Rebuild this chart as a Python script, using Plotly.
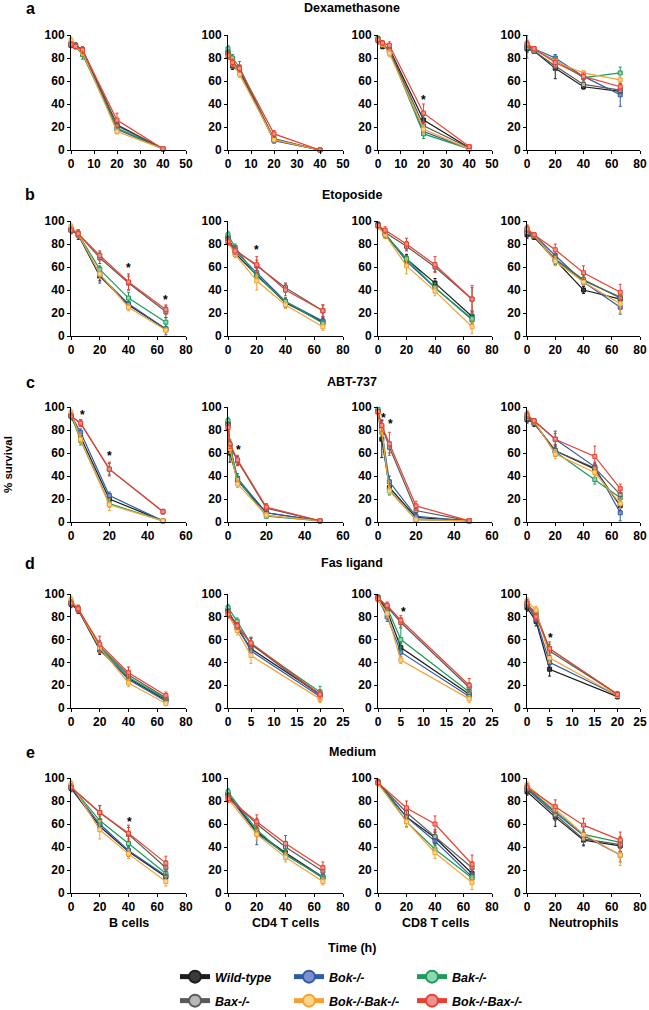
import plotly.graph_objects as go

# ---------------- data ----------------
SERIES = ["Wild-type", "Bok-/-", "Bak-/-", "Bax-/-", "Bok-/-Bak-/-", "Bok-/-Bax-/-"]
CELLS = ["B cells", "CD4 T cells", "CD8 T cells", "Neutrophils"]
TREATMENTS = ["Dexamethasone", "Etoposide", "ABT-737", "Fas ligand", "Medium"]
LETTERS = ["a", "b", "c", "d", "e"]

# Dexamethasone
DEX_TIMES = [[0, 2, 5, 20, 40], [0, 2, 5, 20, 40], [0, 2, 5, 20, 40], [0, 5, 20, 40, 66]]
DEX_XMAX = [50, 50, 50, 80]
DEX_WT = [[91, 91, 87, 22, 1], [85, 73, 68, 9, 0], [96, 90, 88, 26, 2], [88, 86, 71, 55, 51]]
DEX_BOK = [[92, 90, 86, 18, 1], [84, 76, 70, 8, 0], [96, 92, 87, 16, 1], [90, 88, 80, 64, 48]]
DEX_BAK = [[93, 90, 83, 19, 1], [88, 80, 72, 9, 0], [97, 93, 86, 14, 1], [91, 87, 78, 63, 67]]
DEX_BAX = [[91, 91, 87, 21, 1], [84, 74, 69, 10, 0], [95, 91, 87, 21, 2], [89, 86, 73, 57, 52]]
DEX_BOKBAK = [[95, 90, 85, 16, 1], [82, 76, 66, 9, 0], [96, 92, 84, 18, 1], [93, 88, 77, 67, 61]]
DEX_BOKBAX = [[92, 90, 87, 26, 1], [82, 76, 71, 14, 0], [96, 93, 91, 32, 3], [92, 88, 76, 64, 55]]
DEX_WT_SD = [[2, 2, 3, 3, 1], [3, 3, 3, 2, 0.5], [2, 2, 3, 4, 1], [3, 2, 9, 2, 3]]
DEX_BOK_SD = [[2, 2, 3, 2, 1], [3, 4, 3, 2, 0.5], [2, 2, 3, 3, 1], [10, 2, 3, 3, 10]]
DEX_BAK_SD = [[2, 2, 4, 2, 1], [3, 3, 5, 2, 0.5], [2, 2, 3, 4, 1], [3, 2, 3, 3, 5]]
DEX_BAX_SD = [[2, 2, 3, 3, 1], [3, 3, 3, 2, 0.5], [3, 2, 3, 4, 1], [3, 2, 4, 2, 3]]
DEX_BOKBAK_SD = [[3, 2, 3, 2, 1], [3, 3, 3, 2, 0.5], [2, 2, 3, 3, 1], [3, 2, 3, 2, 4]]
DEX_BOKBAX_SD = [[2, 2, 3, 6, 1], [3, 3, 3, 3, 0.5], [2, 2, 3, 8, 1], [3, 2, 4, 3, 3]]

# Etoposide
ETO_TIMES = [[0, 5, 20, 40, 66], [0, 5, 20, 40, 66], [0, 5, 20, 40, 66], [0, 5, 20, 40, 66]]
ETO_XMAX = [80, 80, 80, 80]
ETO_WT = [[92, 88, 52, 27, 6], [86, 72, 53, 29, 12], [97, 88, 67, 46, 17], [88, 86, 66, 40, 32]]
ETO_BOK = [[93, 89, 53, 28, 6], [85, 74, 55, 30, 13], [96, 89, 65, 42, 14], [91, 88, 70, 47, 25]]
ETO_BAK = [[93, 89, 58, 33, 12], [88, 77, 52, 30, 11], [96, 89, 67, 42, 15], [92, 87, 66, 48, 34]]
ETO_BAX = [[92, 89, 68, 46, 21], [84, 75, 61, 42, 22], [96, 90, 78, 60, 32], [90, 87, 67, 49, 33]]
ETO_BOKBAK = [[95, 89, 54, 25, 5], [82, 71, 48, 27, 8], [95, 88, 61, 39, 8], [94, 88, 65, 47, 28]]
ETO_BOKBAX = [[92, 89, 70, 47, 23], [82, 74, 62, 40, 22], [96, 92, 80, 62, 32], [93, 88, 75, 55, 38]]
ETO_WT_SD = [[3, 4, 4, 3, 2], [3, 3, 4, 4, 3], [2, 3, 4, 4, 4], [3, 2, 4, 3, 4]]
ETO_BOK_SD = [[3, 3, 7, 4, 5], [3, 3, 4, 3, 3], [2, 3, 5, 4, 4], [3, 2, 4, 3, 6]]
ETO_BAK_SD = [[3, 3, 3, 5, 4], [3, 3, 3, 3, 3], [2, 3, 3, 4, 4], [3, 2, 4, 4, 4]]
ETO_BAX_SD = [[3, 3, 5, 6, 5], [3, 3, 5, 4, 5], [2, 3, 4, 4, 10], [3, 2, 4, 4, 5]]
ETO_BOKBAK_SD = [[3, 3, 4, 3, 2], [3, 3, 8, 3, 3], [2, 3, 7, 4, 6], [3, 2, 4, 3, 8]]
ETO_BOKBAX_SD = [[3, 3, 4, 7, 4], [3, 3, 7, 5, 5], [2, 3, 5, 7, 12], [3, 2, 5, 6, 7]]

# ABT-737
ABT_TIMES = [[0, 5, 20, 48], [0, 1, 5, 20, 48], [0, 2, 6, 20, 48], [0, 5, 20, 48, 66]]
ABT_XMAX = [60, 60, 60, 80]
ABT_WT = [[92, 74, 20, 1], [86, 60, 36, 8, 1], [96, 72, 30, 4, 1], [89, 86, 62, 46, 14]]
ABT_BOK = [[93, 78, 23, 1], [85, 66, 38, 8, 1], [97, 80, 35, 5, 1], [91, 88, 72, 48, 8]]
ABT_BAK = [[93, 71, 16, 1], [88, 67, 37, 5, 1], [98, 78, 28, 2, 1], [92, 87, 61, 37, 21]]
ABT_BAX = [[92, 86, 46, 9], [84, 66, 53, 12, 1], [96, 83, 65, 10, 1], [90, 86, 62, 47, 24]]
ABT_BOKBAK = [[95, 72, 15, 1], [82, 64, 33, 6, 1], [95, 80, 27, 2, 1], [94, 88, 59, 43, 16]]
ABT_BOKBAX = [[92, 86, 46, 9], [82, 68, 54, 13, 1], [96, 84, 68, 14, 1], [93, 88, 72, 57, 29]]
ABT_WT_SD = [[3, 4, 3, 1], [3, 8, 3, 2, 0.5], [2, 16, 4, 2, 0.5], [3, 3, 5, 3, 4]]
ABT_BOK_SD = [[3, 3, 3, 1], [3, 4, 4, 2, 0.5], [2, 4, 5, 2, 0.5], [3, 2, 7, 4, 7]]
ABT_BAK_SD = [[3, 4, 3, 1], [3, 4, 3, 1, 0.5], [2, 4, 4, 1, 0.5], [3, 2, 4, 4, 4]]
ABT_BAX_SD = [[3, 3, 5, 2], [3, 4, 4, 3, 0.5], [2, 5, 5, 3, 0.5], [3, 2, 4, 4, 4]]
ABT_BOKBAK_SD = [[3, 4, 5, 1], [3, 4, 3, 2, 0.5], [2, 4, 4, 1, 0.5], [3, 2, 4, 4, 4]]
ABT_BOKBAX_SD = [[3, 3, 6, 2], [3, 4, 4, 3, 0.5], [2, 5, 10, 4, 0.5], [3, 2, 5, 9, 4]]

# Fas ligand
FAS_TIMES = [[0, 5, 20, 40, 66], [0, 2, 5, 20], [0, 2, 5, 20], [0, 2, 5, 20]]
FAS_XMAX = [80, 25, 25, 25]
FAS_WT = [[91, 86, 51, 26, 7], [86, 70, 52, 12], [97, 85, 53, 12], [88, 76, 34, 10]]
FAS_BOK = [[92, 87, 52, 25, 6], [85, 72, 50, 10], [96, 80, 49, 10], [91, 78, 40, 11]]
FAS_BAK = [[93, 87, 53, 27, 8], [88, 76, 56, 14], [97, 88, 60, 14], [92, 82, 52, 12]]
FAS_BAX = [[92, 87, 54, 29, 9], [84, 72, 56, 11], [96, 89, 75, 18], [90, 84, 50, 12]]
FAS_BOKBAK = [[95, 87, 53, 22, 4], [82, 68, 46, 8], [95, 83, 42, 8], [94, 86, 44, 11]]
FAS_BOKBAX = [[92, 87, 56, 31, 11], [82, 72, 57, 12], [96, 90, 77, 20], [92, 80, 52, 12]]
FAS_WT_SD = [[3, 3, 4, 3, 2], [3, 3, 4, 3], [2, 3, 4, 4], [3, 4, 6, 2]]
FAS_BOK_SD = [[3, 3, 4, 3, 2], [3, 3, 5, 4], [2, 4, 4, 3], [3, 3, 3, 2]]
FAS_BAK_SD = [[3, 3, 4, 3, 2], [3, 3, 6, 5], [2, 3, 10, 4], [3, 3, 4, 2]]
FAS_BAX_SD = [[3, 3, 5, 4, 2], [3, 3, 5, 3], [2, 3, 4, 4], [3, 3, 4, 2]]
FAS_BOKBAK_SD = [[3, 3, 4, 3, 2], [3, 4, 7, 3], [2, 4, 3, 3], [3, 3, 4, 2]]
FAS_BOKBAX_SD = [[3, 3, 7, 5, 3], [3, 3, 5, 4], [2, 3, 4, 6], [3, 3, 6, 2]]

# Medium
MED_TIMES = [[0, 20, 40, 66], [0, 20, 40, 66], [0, 20, 40, 66], [0, 20, 40, 66]]
MED_XMAX = [80, 80, 80, 80]
MED_WT = [[91, 58, 36, 14], [86, 53, 35, 14], [96, 66, 48, 17], [88, 66, 46, 41]]
MED_BOK = [[92, 60, 37, 15], [85, 52, 34, 13], [96, 66, 45, 14], [91, 70, 50, 33]]
MED_BAK = [[93, 63, 43, 17], [88, 55, 33, 14], [97, 62, 38, 13], [92, 71, 51, 44]]
MED_BAX = [[92, 70, 51, 22], [84, 60, 40, 19], [96, 70, 49, 22], [90, 68, 47, 42]]
MED_BOKBAK = [[95, 55, 34, 10], [82, 51, 31, 10], [95, 62, 35, 9], [94, 73, 51, 33]]
MED_BOKBAX = [[92, 70, 52, 26], [82, 62, 43, 22], [96, 74, 60, 25], [92, 75, 59, 46]]
MED_WT_SD = [[3, 4, 4, 3], [3, 4, 4, 3], [2, 5, 5, 4], [3, 8, 5, 5]]
MED_BOK_SD = [[3, 4, 3, 3], [3, 10, 4, 3], [2, 5, 4, 4], [3, 4, 4, 6]]
MED_BAK_SD = [[3, 4, 4, 3], [3, 4, 4, 3], [2, 4, 4, 4], [3, 4, 4, 5]]
MED_BAX_SD = [[3, 6, 6, 6], [3, 5, 5, 5], [2, 5, 6, 5], [3, 5, 5, 6]]
MED_BOKBAK_SD = [[3, 8, 4, 4], [3, 5, 4, 3], [2, 5, 5, 6], [3, 4, 4, 9]]
MED_BOKBAX_SD = [[3, 6, 7, 6], [3, 6, 7, 5], [2, 6, 7, 8], [3, 6, 6, 7]]

# significance stars: (row, column, time, height)
STARS = [
    (0, 2, 20, 46),
    (1, 0, 40, 62), (1, 0, 66, 34), (1, 1, 20, 77),
    (2, 0, 6, 96), (2, 0, 20, 60), (2, 1, 5.6, 65), (2, 2, 3, 93), (2, 2, 6.5, 88),
    (3, 2, 5.6, 87), (3, 3, 5.3, 64),
    (4, 0, 41, 64),
]

# ---------------- styling ----------------
COLORS = ["#1c1c1c", "#2f5ca6", "#1f9a5b", "#5a5a5a", "#f4a134", "#e8402f"]
FILLS = ["#3a3a3a", "#7d8fd0", "#8fd6b2", "#b8b8b8", "#fdd68a", "#f29090"]
FONT = "Liberation Sans"
W, H = 649, 1010
COL_PX = [(71, 186), (228, 343), (378, 492), (527, 640)]
ROW_PX = [(35, 150), (221, 336), (407, 522), (594, 708), (778, 893)]

ROWS = [
    (DEX_TIMES, DEX_XMAX, [DEX_WT, DEX_BOK, DEX_BAK, DEX_BAX, DEX_BOKBAK, DEX_BOKBAX],
     [DEX_WT_SD, DEX_BOK_SD, DEX_BAK_SD, DEX_BAX_SD, DEX_BOKBAK_SD, DEX_BOKBAX_SD]),
    (ETO_TIMES, ETO_XMAX, [ETO_WT, ETO_BOK, ETO_BAK, ETO_BAX, ETO_BOKBAK, ETO_BOKBAX],
     [ETO_WT_SD, ETO_BOK_SD, ETO_BAK_SD, ETO_BAX_SD, ETO_BOKBAK_SD, ETO_BOKBAX_SD]),
    (ABT_TIMES, ABT_XMAX, [ABT_WT, ABT_BOK, ABT_BAK, ABT_BAX, ABT_BOKBAK, ABT_BOKBAX],
     [ABT_WT_SD, ABT_BOK_SD, ABT_BAK_SD, ABT_BAX_SD, ABT_BOKBAK_SD, ABT_BOKBAX_SD]),
    (FAS_TIMES, FAS_XMAX, [FAS_WT, FAS_BOK, FAS_BAK, FAS_BAX, FAS_BOKBAK, FAS_BOKBAX],
     [FAS_WT_SD, FAS_BOK_SD, FAS_BAK_SD, FAS_BAX_SD, FAS_BOKBAK_SD, FAS_BOKBAX_SD]),
    (MED_TIMES, MED_XMAX, [MED_WT, MED_BOK, MED_BAK, MED_BAX, MED_BOKBAK, MED_BOKBAX],
     [MED_WT_SD, MED_BOK_SD, MED_BAK_SD, MED_BAX_SD, MED_BOKBAK_SD, MED_BOKBAX_SD]),
]


def px_x(p):
    return p / W


def px_y(p):
    return 1 - p / H


fig = go.Figure()
layout = {}
annotations = []
tickfont = dict(family=FONT, size=12, color="black", weight="bold")

for r, (times, xmax, vals, errs) in enumerate(ROWS):
    for c in range(4):
        idx = r * 4 + c + 1
        xa = "x" if idx == 1 else f"x{idx}"
        ya = "y" if idx == 1 else f"y{idx}"
        for s in range(6):
            fig.add_trace(go.Scatter(
                x=times[c], y=vals[s][c], mode="lines+markers",
                error_y=dict(type="data", array=errs[s][c], color=COLORS[s],
                             thickness=1, width=1.5),
                line=dict(color=COLORS[s], width=1.2),
                marker=dict(symbol="square", size=4, color=FILLS[s],
                            line=dict(color=COLORS[s], width=1)),
                xaxis=xa, yaxis=ya, showlegend=False, cliponaxis=False,
                name=SERIES[s],
            ))
        dt = {50: 10, 80: 20, 60: 20, 25: 5}[xmax[c]]
        x0, x1 = COL_PX[c]
        y0, y1 = ROW_PX[r]
        layout["xaxis" if idx == 1 else f"xaxis{idx}"] = dict(
            domain=[px_x(x0), px_x(x1)], range=[0, xmax[c]], dtick=dt, tick0=0,
            anchor=ya, showline=True, linecolor="black", linewidth=1,
            ticks="outside", ticklen=3, tickcolor="black", tickwidth=1, automargin=False,
            tickfont=tickfont, showgrid=False, zeroline=False, fixedrange=True)
        layout["yaxis" if idx == 1 else f"yaxis{idx}"] = dict(
            domain=[px_y(y1), px_y(y0)], range=[0, 100], dtick=20, tick0=0,
            anchor=xa, showline=True, linecolor="black", linewidth=1,
            ticks="outside", ticklen=3, tickcolor="black", tickwidth=1, automargin=False,
            tickfont=tickfont, showgrid=False, zeroline=False, fixedrange=True)

# panel letters and treatment titles
TITLE_Y = [8, 195, 382, 563, 752]
for r in range(5):
    annotations.append(dict(x=px_x(30), y=px_y(TITLE_Y[r]), xref="paper", yref="paper",
                            text=LETTERS[r], showarrow=False, xanchor="center", yanchor="middle",
                            font=dict(family=FONT, size=16, color="black", weight="bold")))
    annotations.append(dict(x=px_x(352), y=px_y(TITLE_Y[r]), xref="paper", yref="paper",
                            text=TREATMENTS[r], showarrow=False, xanchor="center", yanchor="middle",
                            font=dict(family=FONT, size=12.5, color="black", weight="bold")))

# column labels
for c in range(4):
    annotations.append(dict(x=px_x((COL_PX[c][0] + COL_PX[c][1]) / 2), y=px_y(923),
                            xref="paper", yref="paper", text=CELLS[c], showarrow=False,
                            xanchor="center", yanchor="middle",
                            font=dict(family=FONT, size=12.5, color="black", weight="bold")))
annotations.append(dict(x=px_x(352), y=px_y(948), xref="paper", yref="paper", text="Time (h)",
                        showarrow=False, xanchor="center", yanchor="middle",
                        font=dict(family=FONT, size=12.5, color="black", weight="bold")))
annotations.append(dict(x=px_x(8), y=px_y(465), xref="paper", yref="paper", text="% survival",
                        showarrow=False, textangle=-90, xanchor="center", yanchor="middle",
                        font=dict(family=FONT, size=11.5, color="black", weight="bold")))

# stars
for (r, c, t, h) in STARS:
    idx = r * 4 + c + 1
    annotations.append(dict(x=t, y=h, xref="x" if idx == 1 else f"x{idx}",
                            yref="y" if idx == 1 else f"y{idx}", text="*", showarrow=False,
                            xanchor="center", yanchor="middle", yshift=-3,
                            font=dict(family=FONT, size=12, color="black", weight="bold")))

# legend entries (two rows)
LEG_W = [69, 78, 80]
for s in range(6):
    fig.add_trace(go.Scatter(
        x=[None], y=[None], mode="lines+markers", name=SERIES[s],
        line=dict(color=COLORS[s], width=5),
        marker=dict(symbol="circle", size=12, color=FILLS[s], line=dict(color=COLORS[s], width=2)),
        legend="legend" if s < 3 else "legend2", legendwidth=LEG_W[s % 3],
        showlegend=True, xaxis="x", yaxis="y",
    ))

legfont = dict(family=FONT, size=12.5, color="black", weight="bold", style="italic")
common_leg = dict(orientation="h", xanchor="left", yanchor="middle", font=legfont,
                  bgcolor="rgba(0,0,0,0)", borderwidth=0, itemclick=False,
                  itemdoubleclick=False, entrywidthmode="pixels", tracegroupgap=0)

fig.update_layout(
    width=W, height=H, margin=dict(l=0, r=0, t=0, b=0, pad=0, autoexpand=False),
    paper_bgcolor="white", plot_bgcolor="white", hovermode=False,
    annotations=annotations,
    legend=dict(x=px_x(175), y=px_y(977), **common_leg),
    legend2=dict(x=px_x(175), y=px_y(1001), **common_leg),
    **layout,
)

fig.write_html("out.html", config={"displayModeBar": False, "staticPlot": False},
               post_script="document.body.style.margin='0';document.body.style.padding='0';")
